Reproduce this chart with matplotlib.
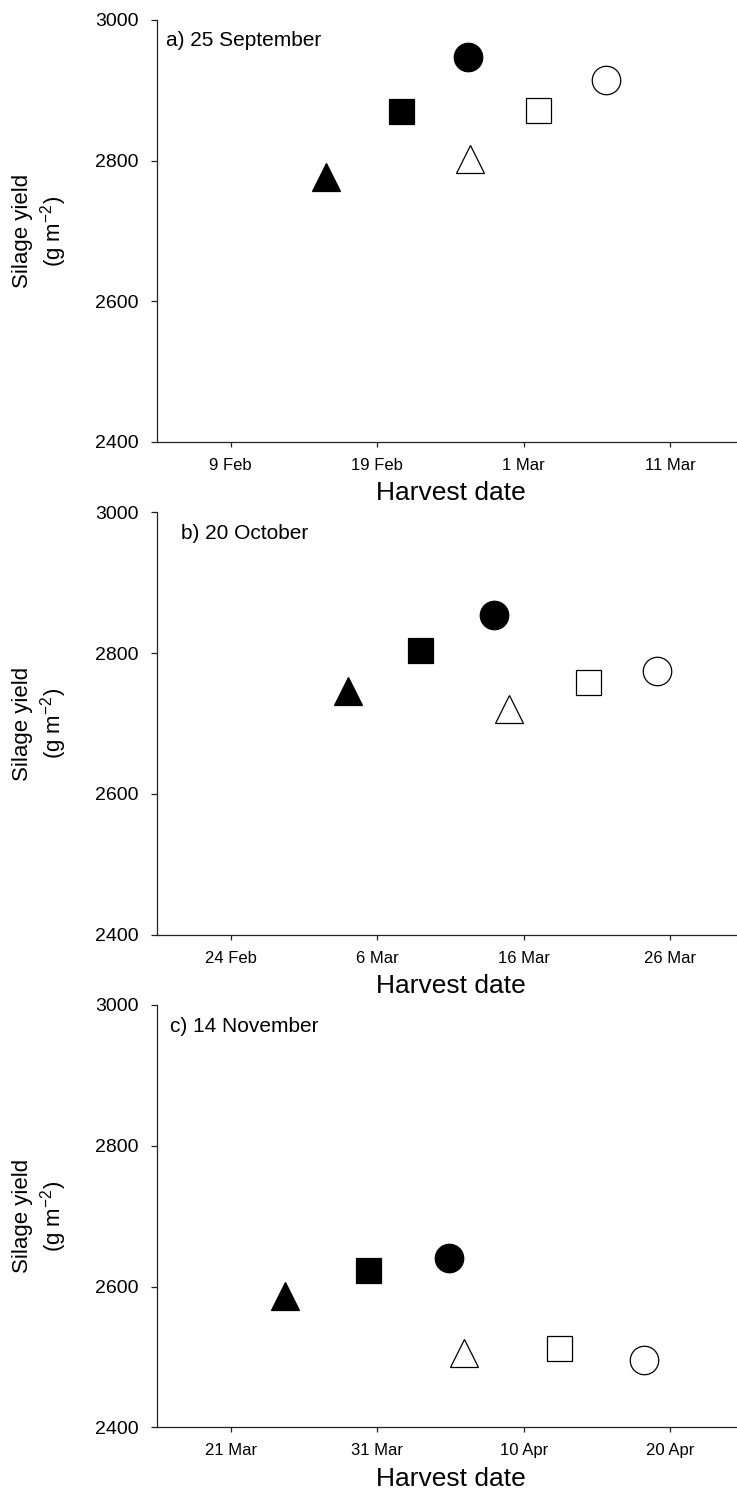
import matplotlib
matplotlib.use("Agg")
import matplotlib.pyplot as plt

plt.rcParams['font.family'] = ['Liberation Sans', 'DejaVu Sans']
plt.rcParams['mathtext.fontset'] = 'custom'
plt.rcParams['mathtext.rm'] = 'Liberation Sans'
plt.rcParams['mathtext.it'] = 'Liberation Sans:italic'
plt.rcParams['mathtext.default'] = 'regular'

# ---- data (x = day of year, non-leap year) ----
panel_titles = ["a) 25 September", "b) 20 October", "c) 14 November"]

tick_days_a = [40, 50, 60, 70]
tick_labels_a = ["9 Feb", "19 Feb", "1 Mar", "11 Mar"]
harvest_a = [46.5, 51.6, 56.2, 56.3, 61.0, 65.6]
yield_a = [2777, 2871, 2948, 2803, 2872, 2914]

tick_days_b = [55, 65, 75, 85]
tick_labels_b = ["24 Feb", "6 Mar", "16 Mar", "26 Mar"]
harvest_b = [63.0, 67.9, 73.0, 74.0, 79.4, 84.1]
yield_b = [2746, 2805, 2854, 2721, 2759, 2775]

tick_days_c = [80, 90, 100, 110]
tick_labels_c = ["21 Mar", "31 Mar", "10 Apr", "20 Apr"]
harvest_c = [83.7, 89.4, 94.9, 95.9, 102.4, 108.2]
yield_c = [2586, 2624, 2640, 2505, 2512, 2496]

y_ticks = [2400, 2600, 2800, 3000]

# ---- styles ----
markers = ['^', 's', 'o', '^', 's', 'o']
faces = ['black', 'black', 'black', 'white', 'white', 'white']
msizes = {'^': 19.5, 's': 18, 'o': 20.5}

W, H = 737, 1495
fig = plt.figure(figsize=(W / 100, H / 100), dpi=100)

ax_left_px = 157.3
px_per_day = 14.66
panels = [
    (20.0, 442.0, tick_days_a, tick_labels_a, harvest_a, yield_a, (166, 46)),
    (512.3, 934.7, tick_days_b, tick_labels_b, harvest_b, yield_b, (181, 539)),
    (1005.0, 1427.3, tick_days_c, tick_labels_c, harvest_c, yield_c, (170, 1032)),
]

for i, (top, bot, tdays, tlabels, xs, ys, (tx, ty)) in enumerate(panels):
    width_px = 40 * px_per_day
    ax = fig.add_axes([ax_left_px / W, 1 - bot / H, width_px / W, (bot - top) / H])
    for x, y, m, fc in zip(xs, ys, markers, faces):
        ax.plot([x], [y], linestyle='none', marker=m, markersize=msizes[m],
                markerfacecolor=fc, markeredgecolor='black', markeredgewidth=0.9,
                clip_on=False, zorder=3)
    ax.set_xlim(tdays[0] - 5, tdays[0] + 35)
    ax.set_ylim(2400, 3000)
    ax.set_xticks(tdays)
    ax.set_xticklabels(tlabels)
    ax.set_yticks(y_ticks)
    ax.spines['top'].set_visible(False)
    ax.spines['right'].set_visible(False)
    for s in ('left', 'bottom'):
        ax.spines[s].set_linewidth(0.9)
        ax.spines[s].set_color('#222222')
    ax.tick_params(axis='y', direction='out', length=4.5, width=0.9,
                   labelsize=14, pad=9, color='#222222')
    ax.tick_params(axis='x', direction='out', length=3.6, width=0.9,
                   labelsize=12, pad=8, color='#222222')
    ax.set_xlabel("Harvest date", fontsize=19, labelpad=6)
    ax.set_facecolor('none')

    yc = 1 - ((top + bot) / 2) / H
    fig.text(22.5 / W, yc, "Silage yield", rotation=90, fontsize=16,
             ha='center', va='center')
    fig.text(54 / W, yc, "(g m$^{-2}$)", rotation=90, fontsize=16,
             ha='center', va='center')
    fig.text(tx / W, 1 - ty / H, panel_titles[i], fontsize=15,
             ha='left', va='baseline')

fig.savefig("out.png", dpi=100)
